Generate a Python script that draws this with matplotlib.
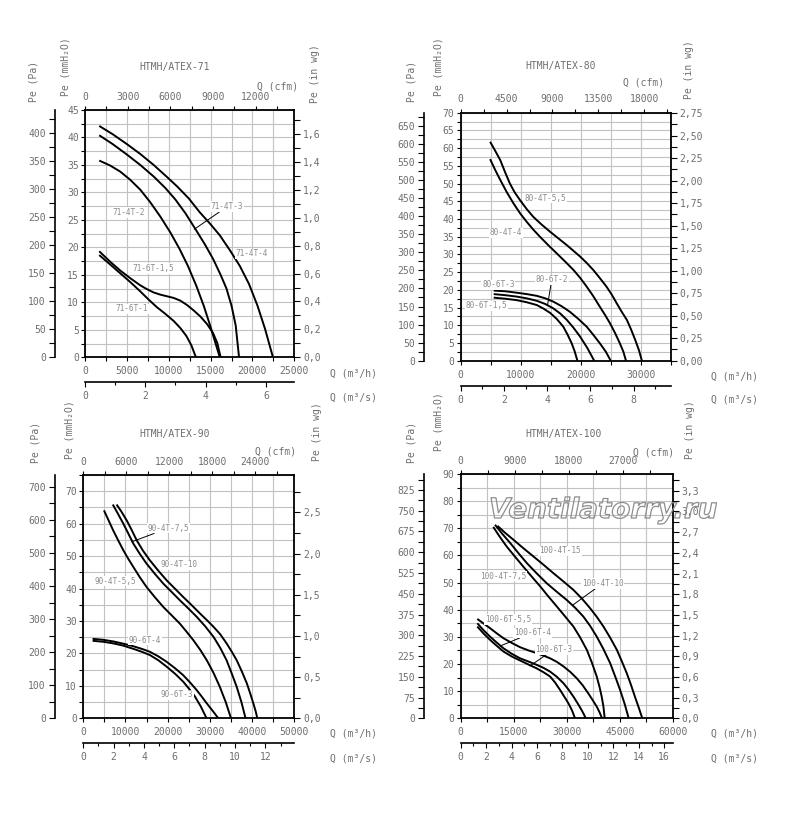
import matplotlib
matplotlib.use('Agg')
import matplotlib.pyplot as plt
from matplotlib.ticker import MultipleLocator, FuncFormatter
import matplotlib.patheffects as pe

# ---------------- DATA (Q in m3/h, Pe in mmH2O) ----------------
# HTMH/ATEX-71
q71_4T4 = [1700, 3300, 5000, 6600, 8200, 9800, 11000, 12400, 13700, 15000, 16100, 17300, 18500, 19600, 20600, 21500, 22450]
p71_4T4 = [42.1, 40.6, 38.8, 37.0, 35.0, 32.8, 31.1, 28.9, 26.4, 24.2, 22.2, 19.5, 16.6, 13.3, 9.4, 5.2, 0]
q71_4T3 = [1700, 3300, 5000, 6600, 8200, 9600, 10800, 12000, 13200, 14300, 15300, 16200, 16900, 17500, 18000, 18400]
p71_4T3 = [40.4, 38.8, 36.9, 35.0, 32.9, 30.8, 28.7, 26.2, 23.3, 20.6, 17.9, 15.0, 12.5, 9.4, 5.8, 0]
q71_4T2 = [1700, 3000, 4200, 5400, 6600, 7800, 9000, 10200, 11300, 12300, 13300, 14200, 14900, 15500, 16100]
p71_4T2 = [35.8, 34.9, 33.8, 32.3, 30.5, 28.2, 25.6, 22.7, 19.7, 16.6, 13.0, 9.3, 6.0, 3.0, 0]
q71_6T15 = [1700, 3000, 4200, 5400, 6600, 7400, 8200, 9000, 9800, 10600, 11400, 12200, 13000, 13800, 14600, 15300, 15800, 16200]
p71_6T15 = [19.3, 17.4, 15.8, 14.4, 13.1, 12.4, 11.8, 11.4, 11.1, 10.8, 10.3, 9.5, 8.5, 7.4, 6.0, 4.4, 2.6, 0]
q71_6T1 = [1700, 3000, 4200, 5400, 6600, 7600, 8600, 9600, 10600, 11400, 12100, 12700, 13250]
p71_6T1 = [18.6, 16.9, 15.3, 13.7, 12.0, 10.5, 9.1, 7.9, 6.6, 5.3, 3.9, 2.2, 0]

# HTMH/ATEX-80
q80_4T55 = [4900, 5700, 6600, 7400, 8200, 9000, 9900, 11000, 12100, 13500, 14900, 16300, 17700, 18800, 19900, 21000, 22100, 23200, 24300, 25200, 26000, 26800, 27700, 28400, 29100, 29700, 30200]
p80_4T55 = [61.8, 59.4, 56.6, 53.2, 50.0, 47.5, 45.3, 42.8, 40.6, 38.4, 36.4, 34.5, 32.6, 31.0, 29.4, 27.6, 25.6, 23.3, 20.9, 18.6, 16.2, 13.9, 11.5, 8.8, 5.8, 3.0, 0]
q80_4T4 = [4900, 5700, 6600, 7700, 8800, 9900, 11000, 12100, 13200, 14600, 16000, 17400, 18800, 19900, 21000, 22100, 23200, 24100, 24900, 25700, 26500, 27100, 27550]
p80_4T4 = [56.9, 54.0, 51.0, 47.5, 44.4, 41.6, 39.2, 37.0, 35.0, 32.6, 30.3, 28.0, 25.6, 23.4, 20.9, 18.2, 15.2, 12.8, 10.5, 7.9, 5.0, 2.6, 0]
q80_6T3 = [5500, 7400, 9300, 11000, 12700, 14100, 15400, 16800, 18200, 19600, 21000, 22100, 23200, 24200, 25000]
p80_6T3 = [19.8, 19.6, 19.2, 18.8, 18.3, 17.6, 16.7, 15.4, 13.8, 11.8, 9.6, 7.3, 4.9, 2.5, 0]
q80_6T2 = [5500, 7400, 9300, 11000, 12700, 14100, 15400, 16600, 17700, 18800, 19900, 21100, 22250]
p80_6T2 = [18.8, 18.5, 18.1, 17.6, 16.9, 16.0, 14.8, 13.3, 11.5, 9.3, 6.8, 3.6, 0]
q80_6T15 = [5500, 7400, 9300, 11000, 12700, 13800, 14900, 16000, 17100, 17800, 18500, 19000, 19450]
p80_6T15 = [17.8, 17.5, 17.1, 16.5, 15.7, 14.7, 13.5, 11.8, 9.6, 7.4, 4.9, 2.6, 0]

# HTMH/ATEX-90
q90_4T10 = [7900, 9100, 10300, 11500, 12700, 14200, 15800, 17800, 19800, 21800, 23700, 25700, 27700, 29300, 30900, 32500, 34000, 35200, 36400, 37600, 38800, 39600, 40350, 40900, 41300]
p90_4T10 = [65.9, 63.6, 61.0, 58.0, 54.8, 51.6, 48.7, 45.5, 42.5, 39.9, 37.4, 34.9, 32.3, 30.3, 28.2, 25.9, 23.1, 20.6, 17.9, 14.5, 10.8, 7.7, 4.6, 2.2, 0]
q90_4T75 = [7000, 8200, 9500, 10700, 11900, 13400, 15000, 17000, 19000, 21000, 22900, 24900, 26900, 28900, 30900, 32500, 34000, 35200, 36400, 37500, 38500]
p90_4T75 = [65.9, 63.1, 60.0, 56.9, 53.8, 50.7, 47.7, 44.5, 41.5, 38.9, 36.4, 33.9, 31.3, 28.4, 25.1, 21.7, 17.9, 13.9, 9.7, 5.1, 0]
q90_4T55 = [4900, 6000, 7100, 8300, 9500, 10700, 11900, 13400, 15000, 17000, 19000, 21000, 22900, 24500, 26100, 27700, 29300, 30900, 32400, 33800, 35050]
p90_4T55 = [64.1, 61.0, 57.9, 54.8, 51.8, 49.1, 46.6, 43.5, 40.5, 37.3, 34.3, 31.7, 29.2, 26.7, 24.1, 21.2, 17.9, 14.0, 9.7, 5.0, 0]
q90_6T4 = [2200, 4700, 7100, 9500, 11900, 13900, 15800, 17800, 19800, 21800, 23700, 25300, 26900, 28100, 29300, 30700, 32050]
p90_6T4 = [24.5, 24.2, 23.7, 23.0, 22.2, 21.4, 20.5, 19.1, 17.4, 15.4, 13.3, 11.1, 8.7, 6.7, 4.6, 2.3, 0]
q90_6T3 = [2200, 4700, 7100, 9500, 11900, 13900, 15800, 17800, 19800, 21800, 23700, 25100, 26500, 27900, 29250]
p90_6T3 = [23.9, 23.6, 23.1, 22.4, 21.4, 20.5, 19.5, 17.9, 15.9, 13.7, 11.3, 9.1, 6.7, 3.6, 0]

# HTMH/ATEX-100
q100_4T15 = [10400, 12600, 14900, 17700, 20600, 23400, 26200, 29000, 31900, 34300, 36600, 38500, 40400, 42300, 44200, 45600, 47000, 48200, 49300, 50400, 51400]
p100_4T15 = [70.9, 68.3, 65.8, 62.7, 59.6, 56.6, 53.5, 50.5, 47.3, 44.1, 40.6, 37.4, 33.8, 29.7, 25.2, 21.0, 16.6, 12.3, 8.0, 3.9, 0]
q100_4T10 = [9700, 11800, 14000, 16300, 18700, 21500, 24300, 27200, 30000, 32400, 34700, 36600, 38500, 40400, 42300, 43700, 45100, 46400, 47550]
p100_4T10 = [71.3, 67.9, 64.6, 60.9, 57.2, 53.4, 49.8, 46.6, 43.6, 40.7, 37.5, 34.1, 30.1, 25.5, 20.3, 15.5, 10.5, 5.3, 0]
q100_4T75 = [9200, 11100, 13000, 15400, 17700, 20100, 22500, 24800, 27200, 29500, 31900, 33800, 35700, 37100, 38500, 39300, 39900, 40400, 40750]
p100_4T75 = [70.5, 66.8, 63.3, 59.5, 55.9, 52.2, 48.6, 44.9, 41.2, 37.6, 33.8, 29.8, 25.2, 20.6, 15.4, 11.5, 8.0, 4.3, 0]
q100_6T55 = [4700, 6500, 8300, 10200, 12100, 14400, 16800, 19200, 21500, 23400, 25300, 27200, 29100, 31000, 32800, 34500, 36100, 37300, 38500, 39300, 40000]
p100_6T55 = [36.6, 34.9, 33.2, 31.3, 29.5, 27.8, 26.2, 25.0, 24.0, 23.1, 22.1, 20.8, 19.1, 17.1, 14.8, 12.2, 9.2, 6.8, 4.3, 2.2, 0]
q100_6T4 = [4700, 6500, 8300, 10200, 12100, 14400, 16800, 19200, 21500, 23400, 25300, 27200, 29100, 30500, 31900, 33100, 34200, 34800, 35400]
p100_6T4 = [35.0, 32.4, 30.1, 27.9, 25.8, 23.8, 22.1, 20.9, 19.7, 18.6, 17.2, 15.3, 12.9, 10.6, 8.0, 5.5, 3.1, 1.6, 0]
q100_6T3 = [4700, 6500, 8300, 10200, 12100, 14400, 16800, 19200, 21500, 23400, 25300, 26700, 28100, 29300, 30500, 31500, 32350]
p100_6T3 = [33.8, 31.2, 28.9, 26.7, 24.6, 22.8, 21.3, 19.8, 18.4, 17.0, 15.4, 13.2, 10.5, 8.0, 5.5, 2.9, 0]

titles = ["HTMH/ATEX-71", "HTMH/ATEX-80", "HTMH/ATEX-90", "HTMH/ATEX-100"]
curve_names = [
    ["71-4T-4", "71-4T-3", "71-4T-2", "71-6T-1,5", "71-6T-1"],
    ["80-4T-5,5", "80-4T-4", "80-6T-3", "80-6T-2", "80-6T-1,5"],
    ["90-4T-10", "90-4T-7,5", "90-4T-5,5", "90-6T-4", "90-6T-3"],
    ["100-4T-15", "100-4T-10", "100-4T-7,5", "100-6T-5,5", "100-6T-4", "100-6T-3"],
]
curves = [
    [(q71_4T4, p71_4T4), (q71_4T3, p71_4T3), (q71_4T2, p71_4T2), (q71_6T15, p71_6T15), (q71_6T1, p71_6T1)],
    [(q80_4T55, p80_4T55), (q80_4T4, p80_4T4), (q80_6T3, p80_6T3), (q80_6T2, p80_6T2), (q80_6T15, p80_6T15)],
    [(q90_4T10, p90_4T10), (q90_4T75, p90_4T75), (q90_4T55, p90_4T55), (q90_6T4, p90_6T4), (q90_6T3, p90_6T3)],
    [(q100_4T15, p100_4T15), (q100_4T10, p100_4T10), (q100_4T75, p100_4T75), (q100_6T55, p100_6T55), (q100_6T4, p100_6T4), (q100_6T3, p100_6T3)],
]
watermark = "Ventilatorry.ru"

# unit conversions
PA_PER_MM = 9.80665
MM_PER_INWG = 25.4
M3H_PER_CFM = 1.699011
M3H_PER_M3S = 3600.0

# ---------------- LAYOUT ----------------
W, H = 800, 819
fig = plt.figure(figsize=(W / 100, H / 100), dpi=100)
MONO = ['DejaVu Sans Mono', 'DejaVu Sans']
TXT = '#6e6e6e'
LBL = '#8c8c8c'
GRID = '#c2c2c2'

def rect(x0, y0, x1, y1):
    return [x0 / W, 1 - y1 / H, (x1 - x0) / W, (y1 - y0) / H]

def ftext(x, y, s, **kw):
    kw.setdefault('family', MONO)
    kw.setdefault('fontsize', 7)
    kw.setdefault('color', TXT)
    kw.setdefault('ha', 'center')
    kw.setdefault('va', 'center')
    fig.text(x / W, 1 - y / H, s, **kw)

def comma(fmt):
    return FuncFormatter(lambda v, p: fmt.format(v).replace('.', ','))

panels = [
    dict(box=(85, 110, 294.3, 357.3), qmax=25000, pmax=45, pa_x=55, ms_y=382.3,
         qmaj=5000, qmin=2500, pmaj=5, pmin=2.5, pamaj=50, pamin=25,
         wgmaj=0.2, wgmin=0.1, wgfmt='{:.1f}', cfmmaj=3000, cfmmin=1500,
         title=(174.3, 66.7), cfm_lbl=(277.3, 86.7), pa_lbl=(33.3, 81.7), mm_lbl=(65, 66.7),
         wg_lbl=(315, 73.3), qh_lbl=(353.3, 373.3), qs_lbl=(353.3, 397),
         labels=[(19900, 18.8), (16961, 27.4), (5256, 26.3), (8123, 16.2), (5614, 8.8)],
         leaders={1: (13056, 23.3)}),
    dict(box=(460.7, 112.7, 670.7, 360.7), qmax=35000, pmax=70, pa_x=424.3, ms_y=386,
         qmaj=10000, qmin=5000, pmaj=5, pmin=2.5, pamaj=50, pamin=25,
         wgmaj=0.25, wgmin=0.125, wgfmt='{:.2f}', cfmmaj=4500, cfmmin=2250,
         title=(561, 66), cfm_lbl=(643.3, 82.3), pa_lbl=(411.7, 81.7), mm_lbl=(438.3, 66.7),
         wg_lbl=(689.3, 70), qh_lbl=(734.3, 376.7), qs_lbl=(734.3, 399),
         labels=[(14050, 45.9), (7550, 36.1), (6267, 21.4), (15167, 22.8), (4333, 15.5)],
         leaders={3: (14500, 15.9)}),
    dict(box=(83.3, 475, 294, 718.3), qmax=50000, pmax=75, pa_x=55, ms_y=743.3,
         qmaj=10000, qmin=5000, pmaj=10, pmin=5, pamaj=100, pamin=50,
         wgmaj=0.5, wgmin=0.25, wgfmt='{:.1f}', cfmmaj=6000, cfmmin=3000,
         title=(175, 434), cfm_lbl=(276, 451.7), pa_lbl=(35, 442.5), mm_lbl=(70, 430),
         wg_lbl=(316.7, 431.7), qh_lbl=(353.3, 734), qs_lbl=(353.3, 758.3),
         labels=[(22710, 47.3), (20171, 58.6), (7523, 42.3), (14642, 24.1), (22164, 7.2)],
         leaders={1: (11486, 54.4), 4: (25300, 8.7)}),
    dict(box=(460.7, 474, 672.7, 718.3), qmax=60000, pmax=90, pa_x=424.3, ms_y=743.3,
         qmaj=15000, qmin=7500, pmaj=10, pmin=5, pamaj=75, pamin=37.5,
         wgmaj=0.3, wgmin=0.15, wgfmt='{:.1f}', cfmmaj=9000, cfmmin=4500,
         title=(564, 434), cfm_lbl=(653.3, 452.3), pa_lbl=(411.7, 442.5), mm_lbl=(438.3, 421.7),
         wg_lbl=(690, 430), qh_lbl=(734.3, 734), qs_lbl=(734.3, 758.3),
         labels=[(28104, 61.7), (40189, 49.7), (12057, 52.4), (13472, 36.5), (20264, 31.5), (26406, 25.4)],
         leaders={1: (31698, 41.7), 4: (11123, 26.6), 5: (19613, 19.3)}),
]

TICK_KW = dict(which='both', direction='out', width=0.8, colors='black',
               labelcolor=TXT, labelsize=7)

for i, cfg in enumerate(panels):
    x0, y0, x1, y1 = cfg['box']
    qmax, pmax = cfg['qmax'], cfg['pmax']

    ax = fig.add_axes(rect(x0, y0, x1, y1))
    ax.set_xlim(0, qmax)
    ax.set_ylim(0, pmax)
    ax.xaxis.set_major_locator(MultipleLocator(cfg['qmaj']))
    ax.xaxis.set_minor_locator(MultipleLocator(cfg['qmin']))
    ax.yaxis.set_major_locator(MultipleLocator(cfg['pmaj']))
    ax.yaxis.set_minor_locator(MultipleLocator(cfg['pmin']))
    ax.xaxis.set_major_formatter(FuncFormatter(lambda v, p: f"{int(round(v))}"))
    ax.yaxis.set_major_formatter(FuncFormatter(lambda v, p: f"{int(round(v))}"))
    ax.grid(which='both', color=GRID, lw=0.8)
    ax.set_axisbelow(True)
    ax.tick_params(**TICK_KW)
    ax.tick_params(axis='x', which='both', length=3, pad=3.5)
    ax.tick_params(axis='y', which='both', length=3, pad=1.5)
    for s in ax.spines.values():
        s.set_linewidth(1.3)
    for lab in ax.get_xticklabels() + ax.get_yticklabels():
        lab.set_family(MONO)

    for (q, p) in curves[i]:
        ax.plot(q, p, color='black', lw=1.4, solid_capstyle='butt', zorder=3)

    for j, name in enumerate(curve_names[i]):
        tx, ty = cfg['labels'][j]
        if j in cfg['leaders']:
            ax.annotate(name, xy=cfg['leaders'][j], xytext=(tx, ty), fontsize=5.6,
                        family=MONO, color=LBL, ha='center', va='center', zorder=5,
                        bbox=dict(boxstyle='square,pad=0.1', fc='white', ec='none'),
                        arrowprops=dict(arrowstyle='-', color='black', lw=0.7,
                                        shrinkA=0, shrinkB=0))
        else:
            ax.text(tx, ty, name, fontsize=5.6, family=MONO, color=LBL,
                    ha='center', va='center', zorder=5,
                    bbox=dict(boxstyle='square,pad=0.1', fc='white', ec='none'))

    # top axis: cfm
    top = ax.twiny()
    top.set_xlim(0, qmax / M3H_PER_CFM)
    top.xaxis.set_major_locator(MultipleLocator(cfg['cfmmaj']))
    top.xaxis.set_minor_locator(MultipleLocator(cfg['cfmmin']))
    top.xaxis.set_major_formatter(FuncFormatter(lambda v, p: f"{int(round(v))}"))
    top.tick_params(**TICK_KW)
    top.tick_params(axis='x', which='both', length=3, pad=3)
    for s in top.spines.values():
        s.set_visible(False)
    for lab in top.get_xticklabels():
        lab.set_family(MONO)

    # right axis: in wg
    right = ax.twinx()
    right.set_ylim(0, pmax / MM_PER_INWG)
    right.yaxis.set_major_locator(MultipleLocator(cfg['wgmaj']))
    right.yaxis.set_minor_locator(MultipleLocator(cfg['wgmin']))
    right.yaxis.set_major_formatter(comma(cfg['wgfmt']))
    right.tick_params(**TICK_KW)
    right.tick_params(axis='y', which='both', length=4, pad=2.5)
    for s in right.spines.values():
        s.set_visible(False)
    for lab in right.get_yticklabels():
        lab.set_family(MONO)

    # left outer axis: Pa
    pax = fig.add_axes(rect(cfg['pa_x'], y0, cfg['pa_x'] + 1, y1))
    pax.patch.set_visible(False)
    pax.set_ylim(0, pmax * PA_PER_MM)
    pax.set_xticks([])
    for k in ('top', 'right', 'bottom'):
        pax.spines[k].set_visible(False)
    pax.spines['left'].set_linewidth(1.2)
    pax.yaxis.set_major_locator(MultipleLocator(cfg['pamaj']))
    pax.yaxis.set_minor_locator(MultipleLocator(cfg['pamin']))
    pax.yaxis.set_major_formatter(FuncFormatter(lambda v, p: f"{int(round(v))}"))
    pax.tick_params(**TICK_KW)
    pax.tick_params(axis='y', which='both', length=4, pad=2.5)
    for lab in pax.get_yticklabels():
        lab.set_family(MONO)

    # bottom outer axis: m3/s
    ms = fig.add_axes(rect(x0, cfg['ms_y'] - 1, x1, cfg['ms_y']))
    ms.patch.set_visible(False)
    ms.set_xlim(0, qmax / M3H_PER_M3S)
    ms.set_yticks([])
    for k in ('top', 'right', 'left'):
        ms.spines[k].set_visible(False)
    ms.spines['bottom'].set_linewidth(1.2)
    ms.xaxis.set_major_locator(MultipleLocator(2))
    ms.xaxis.set_minor_locator(MultipleLocator(1))
    ms.xaxis.set_major_formatter(FuncFormatter(lambda v, p: f"{int(round(v))}"))
    ms.tick_params(**TICK_KW)
    ms.tick_params(axis='x', which='major', length=3.5, pad=3)
    ms.tick_params(axis='x', which='minor', length=2.5)
    for lab in ms.get_xticklabels():
        lab.set_family(MONO)

    # texts
    ftext(*cfg['title'], titles[i])
    ftext(*cfg['cfm_lbl'], 'Q (cfm)')
    ftext(*cfg['pa_lbl'], 'Pe (Pa)', rotation=90)
    ftext(*cfg['mm_lbl'], 'Pe (mmH\u2082O)', rotation=90)
    ftext(*cfg['wg_lbl'], 'Pe (in wg)', rotation=90)
    ftext(*cfg['qh_lbl'], 'Q (m\u00b3/h)')
    ftext(*cfg['qs_lbl'], 'Q (m\u00b3/s)')

# watermark: outlined, transparent fill
fig.text(603 / W, 1 - 518 / H, watermark, fontsize=20, style='italic', weight='bold',
         family='DejaVu Sans', color=(1, 1, 1, 0), ha='center', va='baseline', zorder=20,
         path_effects=[pe.Stroke(linewidth=0.9, foreground='#8e8e8e')])

fig.savefig('out.png', dpi=100, facecolor='white')
